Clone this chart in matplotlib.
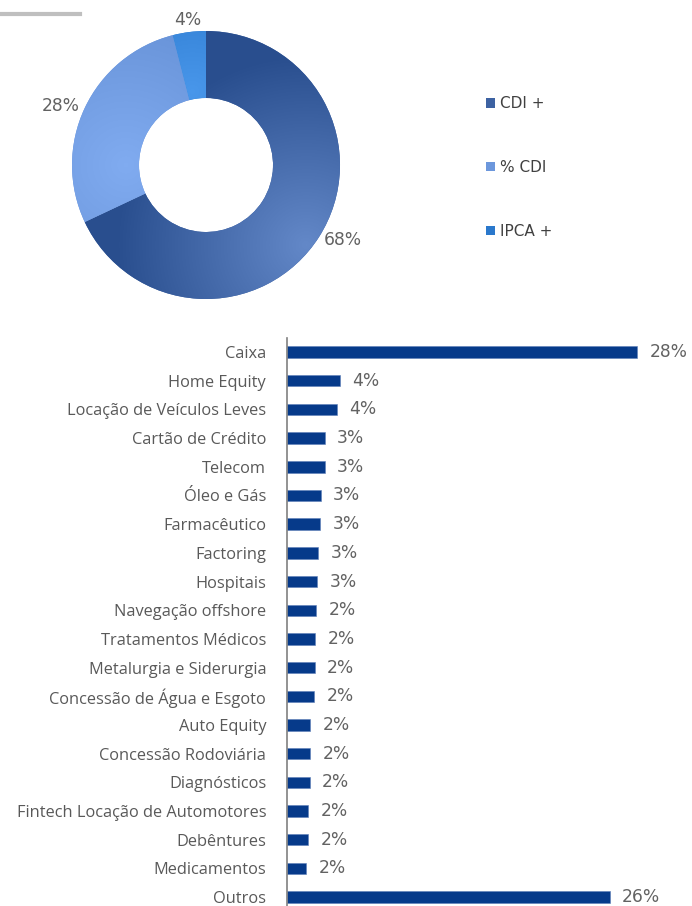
import numpy as np
import matplotlib
matplotlib.use("Agg")
import matplotlib.pyplot as plt
from matplotlib.lines import Line2D
from matplotlib.patches import Patch

# donut: indexadores
idx_labels = ["CDI +", "% CDI", "IPCA +"]
idx_values = [68, 28, 4]
idx_colors = ["#3d62a2", "#6c97dc", "#2a78cc"]

# barras: setores
setores = [
    "Caixa", "Home Equity", "Locação de Veículos Leves", "Cartão de Crédito",
    "Telecom", "Óleo e Gás", "Farmacêutico", "Factoring", "Hospitais",
    "Navegação offshore", "Tratamentos Médicos", "Metalurgia e Siderurgia",
    "Concessão de Água e Esgoto", "Auto Equity", "Concessão Rodoviária",
    "Diagnósticos", "Fintech Locação de Automotores", "Debêntures",
    "Medicamentos", "Outros",
]
pesos = [28.0, 4.2, 4.0, 3.0, 3.0, 2.7, 2.65, 2.5, 2.4, 2.3, 2.25, 2.2,
         2.15, 1.85, 1.85, 1.8, 1.7, 1.7, 1.5, 25.8]
pesos_txt = ["28%", "4%", "4%", "3%", "3%", "3%", "3%", "3%", "3%", "2%",
             "2%", "2%", "2%", "2%", "2%", "2%", "2%", "2%", "2%", "26%"]

W, H = 692, 906
fig = plt.figure(figsize=(W / 100, H / 100), dpi=100, facecolor="white")
plt.rcParams["font.family"] = ["Open Sans", "DejaVu Sans"]
num_font = dict(family=["DejaVu Sans"], color="#626262", fontsize=12.3)

# --- donut ---
cx, cy, r = 206, 165, 134
ax1 = fig.add_axes([(cx - r) / W, (H - cy - r) / H, 2 * r / W, 2 * r / H])
wedges, _ = ax1.pie(idx_values, colors=idx_colors, startangle=90,
                    counterclock=False, radius=1.0,
                    wedgeprops=dict(width=0.5, linewidth=0))
ax1.set_xlim(-1, 1)
ax1.set_ylim(-1, 1)
ax1.set_aspect("equal")
ax1.axis("off")

# soft gradient on each wedge
yy, xx = np.mgrid[-1:1:300j, -1:1:300j]
grad_pts = [(0.75, -0.6), (-0.6, 0.0), (-0.1, 0.55)]
grad_amt = [0.15, 0.08, 0.12]
for w, col, (gx, gy), a in zip(wedges, idx_colors, grad_pts, grad_amt):
    d = np.clip(np.hypot(xx - gx, yy - gy) / 1.4, 0, 1)
    base = np.array(matplotlib.colors.to_rgb(col))
    light = np.clip(base + a, 0, 1)
    dark = np.clip(base - a / 2, 0, 1)
    img = light[None, None, :] * (1 - d[..., None]) + dark[None, None, :] * d[..., None]
    im = ax1.imshow(img, extent=(-1, 1, -1, 1), origin="lower", zorder=2)
    im.set_clip_path(w)

# percent labels at wedge mid-angles
ang = 90.0
for v in idx_values:
    frac = v / sum(idx_values) * 360
    mid = np.deg2rad(ang - frac / 2)
    ang -= frac
    x, y = np.cos(mid), np.sin(mid)
    if abs(x) < 0.3:
        ha, d = "center", 1.09
    else:
        ha, d = ("left" if x > 0 else "right"), 1.04
    ax1.text(d * x, d * y, f"{v}%", ha=ha, va="center", zorder=5,
             clip_on=False, **num_font)

handles = [Patch(facecolor=c, edgecolor="none") for c in idx_colors]
fig.legend(handles, idx_labels, loc="upper left",
           bbox_to_anchor=(480 / W, 1 - 90 / H), frameon=False,
           prop=dict(family=["DejaVu Sans"], size=11),
           handlelength=0.6, handleheight=0.6, handletextpad=0.3,
           labelspacing=3.2, labelcolor="#404040", borderaxespad=0)

# decoration top-left
fig.add_artist(Line2D([0, 80 / W], [1 - 14 / H, 1 - 14 / H], color="#bfbfbf",
                      lw=3, transform=fig.transFigure))

# --- bars ---
ax2 = fig.add_axes([287 / W, 0, (W - 287) / W, (H - 338) / H])
yb = np.arange(len(setores))
ax2.barh(yb, pesos, height=0.4, color="#063a8a", edgecolor="#5d7fb8",
         linewidth=0.4)
ax2.set_ylim(len(setores) - 1 + 0.31, -0.49)
ax2.set_xlim(0, (W - 287) / 12.5)
ax2.set_yticks(yb)
ax2.set_yticklabels(setores, fontsize=11.8, color="#595959")
ax2.tick_params(axis="y", length=0, pad=15)
for lab in ax2.get_yticklabels():
    lab.set_verticalalignment("center_baseline")
ax2.set_xticks([])
for s in ["top", "right", "bottom"]:
    ax2.spines[s].set_visible(False)
ax2.spines["left"].set_color("#808080")
ax2.spines["left"].set_linewidth(1.2)
for yi, v, t in zip(yb, pesos, pesos_txt):
    ax2.text(v + 1.0, yi, t, va="center", ha="left", **num_font)

fig.savefig("out.png", dpi=100, facecolor="white")
